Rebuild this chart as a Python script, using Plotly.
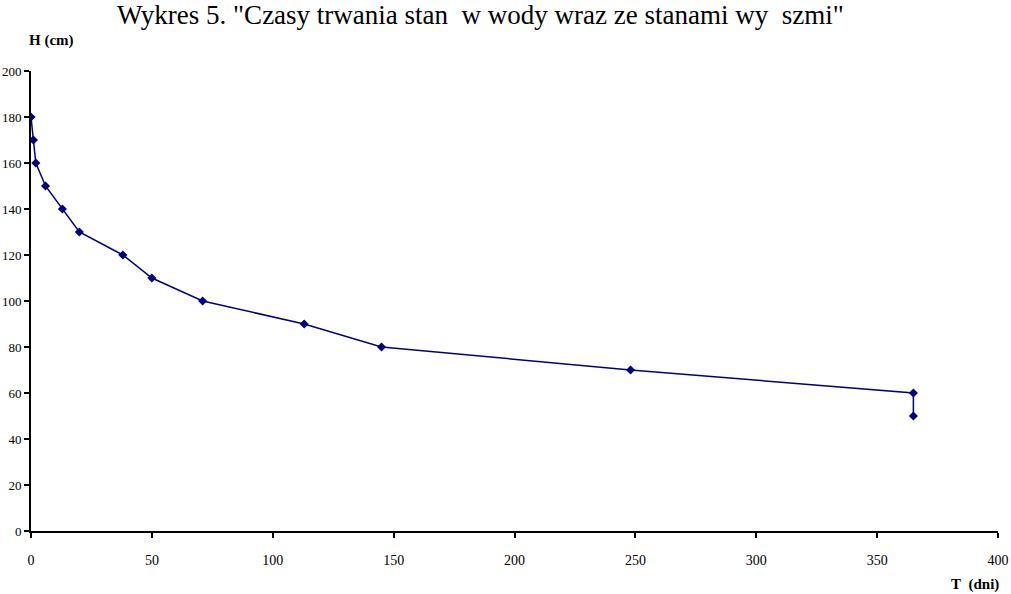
import plotly.graph_objects as go

# Data
T_days = [0, 1, 2, 6, 13, 20, 38, 50, 71, 113, 145, 248, 365, 365]
H_cm = [180, 170, 160, 150, 140, 130, 120, 110, 100, 90, 80, 70, 60, 50]

x_ticks = [0, 50, 100, 150, 200, 250, 300, 350, 400]
y_ticks = [0, 20, 40, 60, 80, 100, 120, 140, 160, 180, 200]

title_text = 'Wykres 5. "Czasy trwania stan\u00a0 w wody wraz ze stanami wy\u00a0 szmi"'

font_family = "Times New Roman, Liberation Serif, DejaVu Serif, serif"

fig = go.Figure()
fig.add_trace(go.Scatter(
    x=T_days, y=H_cm, mode="lines+markers",
    line=dict(color="#000080", width=1.5),
    marker=dict(symbol="diamond", size=7, color="#000080"),
    showlegend=False,
))

fig.update_layout(
    width=1011, height=594,
    margin=dict(l=31, r=13, t=71, b=63, autoexpand=False),
    paper_bgcolor="white", plot_bgcolor="white",
    font=dict(family=font_family, color="black", size=14),
    xaxis=dict(range=[0, 400], tickvals=x_ticks, showgrid=False, zeroline=False,
               automargin=False,
               showline=True, linecolor="black", linewidth=2,
               ticks="outside", ticklen=5, tickwidth=2, tickcolor="black",
               ticklabelstandoff=10,
               tickfont=dict(family=font_family, size=14, color="black")),
    yaxis=dict(range=[0, 200], tickvals=y_ticks, showgrid=False, zeroline=False,
               automargin=False,
               showline=True, linecolor="black", linewidth=2,
               ticks="outside", ticklen=5, tickwidth=2, tickcolor="black",
               ticklabelstandoff=0,
               tickfont=dict(family=font_family, size=13, color="black")),
    annotations=[
        dict(text=title_text, xref="paper", yref="paper", x=0.4645, y=1.1217,
             xanchor="center", yanchor="middle", showarrow=False,
             font=dict(family=font_family, size=27, color="black")),
        dict(text="<b>H (cm)</b>", xref="paper", yref="paper", x=0.0217, y=1.067,
             xanchor="center", yanchor="middle", showarrow=False,
             font=dict(family=font_family, size=15, color="black")),
        dict(text="<b>T\u00a0 (dni)</b>", xref="paper", yref="paper", x=0.976, y=-0.117,
             xanchor="center", yanchor="middle", showarrow=False,
             font=dict(family=font_family, size=15, color="black")),
    ],
)

fig.write_html("out.html", config={"displayModeBar": False},
               post_script="document.body.style.margin='0';")
